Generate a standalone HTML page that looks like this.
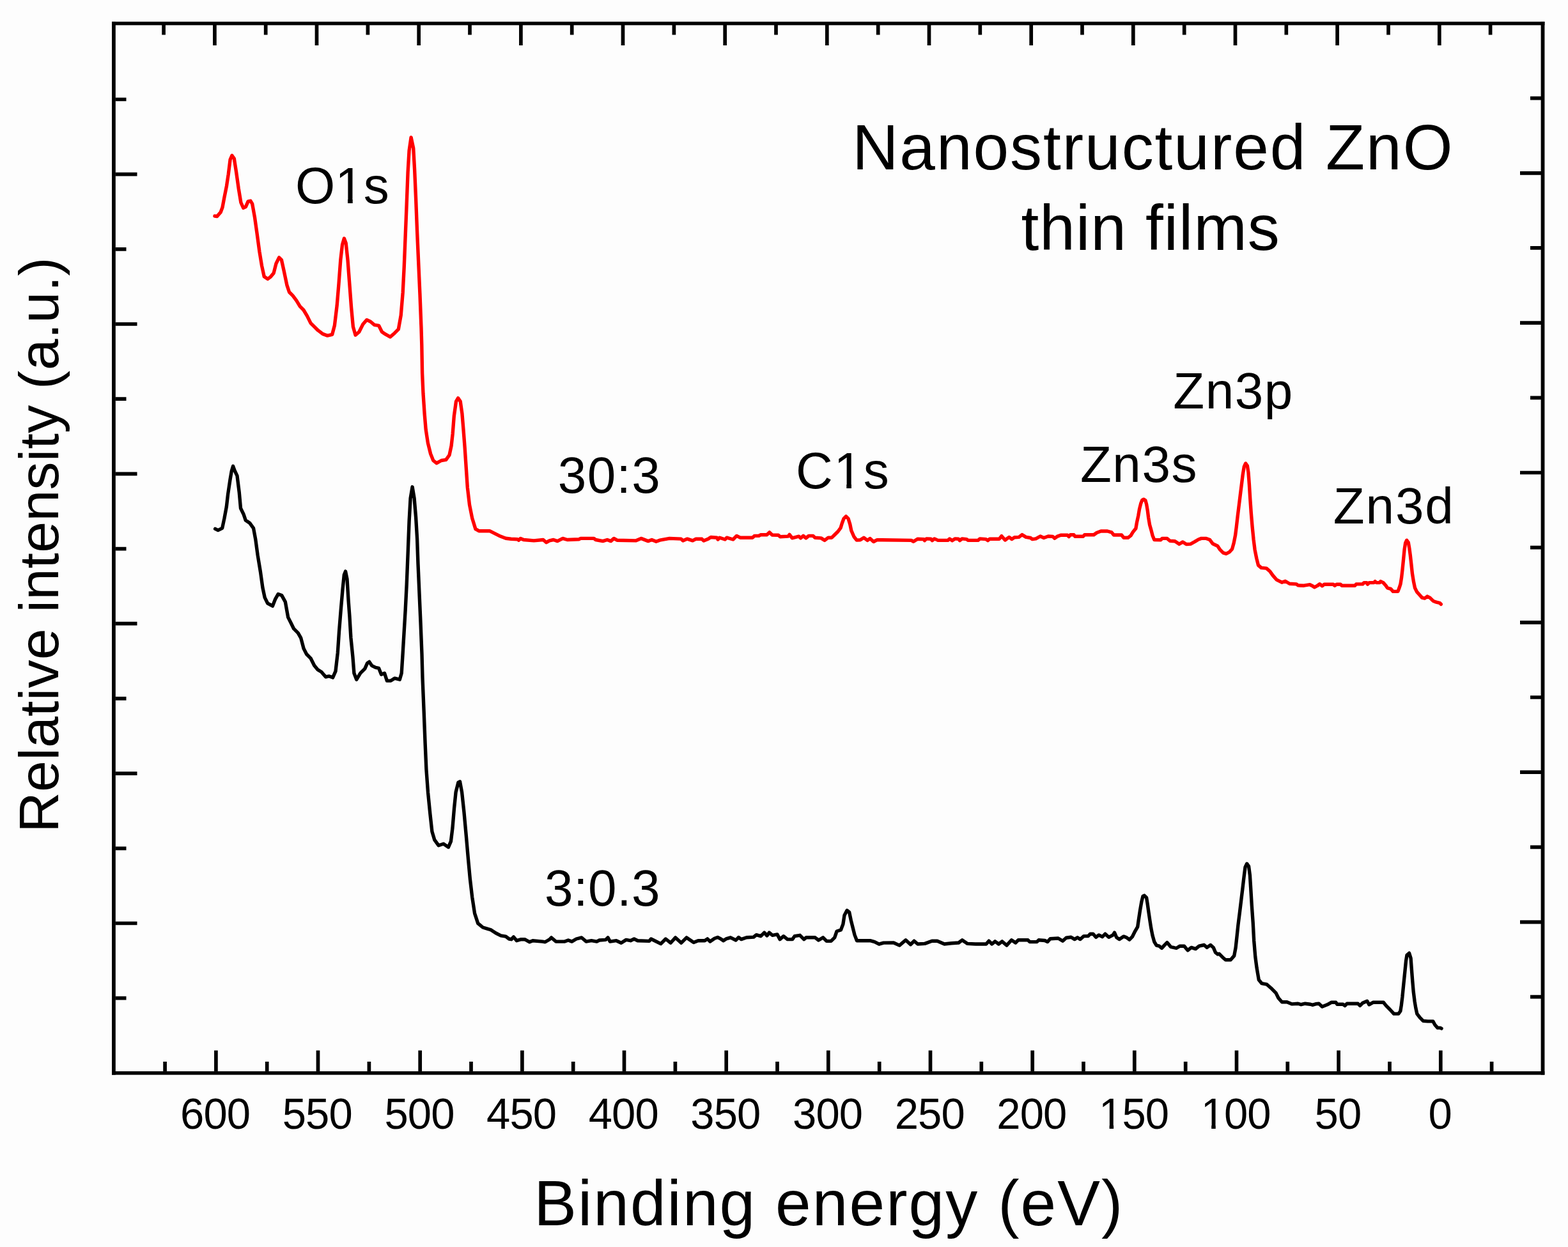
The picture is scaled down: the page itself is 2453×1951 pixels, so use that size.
<!DOCTYPE html>
<html><head><meta charset="utf-8"><title>XPS spectra of nanostructured ZnO thin films</title>
<style>html,body{margin:0;padding:0;background:#fdfdfd;}svg{display:block;}</style>
</head><body><svg width="2453" height="1951" viewBox="0 0 2453 1951"><rect width="2453" height="1951" fill="#fdfdfd"/><rect x="175" y="33.9" width="2241.4" height="5.5" fill="#000"/><rect x="175" y="1676.1" width="2241.4" height="5.5" fill="#000"/><rect x="175" y="33.9" width="5.8" height="1647.7" fill="#000"/><rect x="2410.6" y="33.9" width="5.8" height="1647.7" fill="#000"/><path d="M258.1 1676.5V1661M256.1 39V54.5M337.9 1676.5V1643.5M335.9 39V71M417.7 1676.5V1661M415.7 39V54.5M497.5 1676.5V1643.5M495.5 39V71M577.4 1676.5V1661M575.4 39V54.5M657.2 1676.5V1643.5M655.2 39V71M737.0 1676.5V1661M735.0 39V54.5M816.9 1676.5V1643.5M814.9 39V71M896.7 1676.5V1661M894.7 39V54.5M976.5 1676.5V1643.5M974.5 39V71M1056.4 1676.5V1661M1054.4 39V54.5M1136.2 1676.5V1643.5M1134.2 39V71M1216.0 1676.5V1661M1214.0 39V54.5M1295.8 1676.5V1643.5M1293.8 39V71M1375.7 1676.5V1661M1373.7 39V54.5M1455.5 1676.5V1643.5M1453.5 39V71M1535.3 1676.5V1661M1533.3 39V54.5M1615.2 1676.5V1643.5M1613.2 39V71M1695.0 1676.5V1661M1693.0 39V54.5M1774.8 1676.5V1643.5M1772.8 39V71M1854.7 1676.5V1661M1852.7 39V54.5M1934.5 1676.5V1643.5M1932.5 39V71M2014.3 1676.5V1661M2012.3 39V54.5M2094.1 1676.5V1643.5M2092.1 39V71M2174.0 1676.5V1661M2172.0 39V54.5M2253.8 1676.5V1643.5M2251.8 39V71M2333.6 1676.5V1661M2331.6 39V54.5M180.5 155.5H197.5M2411 153.6H2394M180.5 272.7H214.5M2411 270.8H2378M180.5 389.8H197.5M2411 387.9H2394M180.5 507.0H214.5M2411 505.1H2378M180.5 624.2H197.5M2411 622.3H2394M180.5 741.4H214.5M2411 739.5H2378M180.5 858.6H197.5M2411 856.7H2394M180.5 975.7H214.5M2411 973.8H2378M180.5 1092.9H197.5M2411 1091.0H2394M180.5 1210.1H214.5M2411 1208.2H2378M180.5 1327.3H197.5M2411 1325.4H2394M180.5 1444.5H214.5M2411 1442.6H2378M180.5 1561.6H197.5M2411 1559.7H2394" stroke="#000" stroke-width="5.7" fill="none"/><polyline points="336.6,827.4 341.1,829.6 347.7,826.3 351.0,810.8 354.3,793.1 356.6,773.1 359.9,751.0 362.3,737.0 364.6,729.3 367.0,736.0 371.0,744.3 374.3,770.9 376.5,795.3 380.9,804.2 384.3,814.1 390.9,818.6 396.5,826.3 399.8,844.0 403.1,868.4 407.5,895.0 410.9,919.4 414.2,934.9 418.6,943.8 426.4,948.2 430.8,937.1 435.2,929.4 440.8,931.6 446.3,941.6 450.7,965.9 455.2,974.8 459.6,983.7 466.3,990.3 470.7,998.1 475.1,1014.7 479.6,1023.5 486.2,1030.2 491.7,1041.3 497.3,1047.9 502.8,1051.2 509.5,1059.0 515.0,1057.9 520.6,1060.1 525.0,1050.1 528.3,1021.3 530.5,988.1 533.2,954.8 536.1,921.6 538.3,899.4 540.5,893.9 543.0,906.0 545.0,938.3 546.9,964.0 548.9,997.7 551.9,1027.5 553.9,1053.2 557.8,1063.2 563.8,1053.2 570.7,1046.3 574.7,1037.4 577.7,1035.4 581.6,1041.3 587.6,1044.3 592.5,1045.3 596.5,1055.2 601.5,1053.2 605.4,1065.1 611.4,1065.1 617.3,1061.2 625.3,1063.2 628.2,1053.2 630.2,1021.5 632.2,987.8 634.2,954.1 636.2,914.5 638.1,866.9 640.1,815.3 642.1,779.7 645.1,761.8 648.1,779.7 650.6,809.4 652.6,843.1 654.0,882.7 656.0,928.3 658.0,973.9 660.0,1023.5 661.0,1060.0 663.1,1111.3 665.1,1162.6 666.9,1203.6 669.5,1239.5 672.8,1272.8 675.9,1301.0 679.7,1313.8 686.2,1322.8 693.8,1320.3 701.5,1325.4 705.4,1316.4 707.9,1295.9 710.5,1265.1 713.1,1239.5 716.9,1224.1 719.5,1222.8 722.6,1239.5 725.9,1270.3 729.2,1306.2 732.3,1342.1 735.4,1375.4 738.7,1403.6 742.6,1429.2 747.7,1444.6 755.4,1451.0 768.2,1454.9 775.9,1460.0 783.6,1463.8 791.3,1465.1 796.4,1469.0 800.0,1469.7 803.5,1465.9 808.3,1471.7 815.3,1469.7 820.9,1469.7 828.5,1473.8 833.4,1471.7 848.7,1473.1 852.9,1473.8 859.8,1469.7 862.6,1466.9 869.6,1473.1 883.5,1473.1 889.0,1471.0 894.6,1473.1 901.6,1469.0 909.9,1466.9 916.9,1473.1 925.2,1471.7 933.6,1473.1 937.7,1471.0 947.5,1470.4 951.0,1466.9 954.4,1473.1 964.2,1471.7 971.8,1475.2 979.5,1470.4 986.4,1471.7 992.0,1469.0 997.6,1471.7 1015.7,1472.4 1018.5,1469.0 1022.6,1471.0 1033.8,1476.6 1041.4,1469.0 1049.1,1475.2 1056.7,1466.9 1065.8,1475.2 1074.1,1466.9 1085.2,1474.5 1092.2,1471.7 1102.5,1471.7 1106.7,1468.9 1110.9,1473.0 1117.8,1468.2 1122.7,1466.5 1127.6,1468.9 1131.7,1471.7 1135.9,1468.9 1142.9,1466.8 1151.2,1471.0 1155.4,1466.5 1159.6,1469.6 1167.9,1466.8 1179.0,1466.1 1183.2,1462.6 1190.2,1464.7 1195.7,1459.1 1199.9,1464.0 1203.4,1459.1 1208.3,1463.3 1215.9,1461.9 1220.1,1469.6 1225.7,1464.7 1231.9,1469.6 1239.6,1469.6 1243.1,1464.7 1251.4,1463.3 1257.7,1469.6 1261.1,1466.8 1275.1,1466.8 1280.6,1471.0 1287.6,1466.8 1293.1,1472.4 1300.1,1472.4 1305.7,1466.8 1309.1,1457.0 1315.4,1455.0 1318.9,1445.9 1321.0,1432.0 1325.1,1424.4 1328.6,1427.1 1331.4,1440.4 1334.2,1451.5 1337.0,1462.6 1340.5,1471.7 1361.3,1471.7 1368.3,1473.7 1375.2,1477.2 1382.2,1475.1 1398.1,1475.0 1407.1,1479.1 1416.9,1470.8 1424.5,1477.7 1430.1,1472.2 1435.7,1477.0 1446.8,1476.4 1457.9,1472.2 1466.3,1472.2 1477.4,1477.0 1488.5,1475.7 1499.7,1475.0 1505.2,1470.8 1513.6,1476.4 1526.1,1477.0 1542.8,1477.0 1547.0,1472.2 1551.8,1477.0 1556.7,1472.9 1562.3,1477.0 1567.8,1472.9 1574.8,1479.1 1582.4,1470.8 1588.7,1475.0 1592.9,1470.8 1608.2,1470.8 1611.0,1473.6 1622.1,1473.6 1624.9,1470.8 1634.6,1471.5 1638.8,1473.6 1643.0,1468.7 1655.5,1468.0 1662.5,1472.2 1668.0,1467.3 1675.6,1466.3 1681.1,1469.6 1685.6,1466.8 1690.0,1469.6 1695.6,1464.6 1702.3,1464.6 1705.6,1461.2 1710.1,1461.2 1714.5,1466.3 1719.0,1462.9 1724.5,1465.7 1729.0,1461.2 1734.6,1466.3 1741.2,1462.9 1743.5,1459.0 1746.8,1466.8 1751.3,1469.6 1757.9,1465.1 1762.4,1466.8 1766.9,1470.2 1771.3,1465.7 1775.8,1456.8 1779.7,1450.1 1781.3,1439.0 1783.5,1424.5 1785.8,1411.2 1788.0,1402.2 1790.2,1401.1 1793.6,1404.5 1795.2,1414.5 1796.9,1426.7 1798.9,1440.1 1800.8,1452.3 1803.0,1463.5 1805.8,1473.5 1809.2,1479.1 1813.6,1480.2 1817.5,1483.5 1821.4,1479.1 1825.8,1474.6 1831.4,1481.3 1840.3,1483.5 1845.9,1480.2 1852.6,1480.2 1858.1,1486.9 1863.7,1482.4 1870.4,1484.6 1875.9,1480.2 1883.7,1478.5 1888.2,1482.4 1893.8,1478.5 1898.2,1482.4 1901.5,1490.2 1904.9,1493.0 1907.1,1492.2 1912.6,1497.7 1917.3,1501.7 1925.2,1501.7 1930.7,1495.4 1933.1,1482.8 1935.0,1465.4 1937.0,1446.5 1939.4,1427.6 1941.7,1408.7 1943.8,1391.4 1946.0,1372.5 1948.0,1356.8 1950.7,1351.3 1953.5,1355.2 1955.4,1369.4 1956.7,1389.8 1958.3,1416.6 1960.2,1443.4 1961.7,1471.7 1963.8,1496.9 1966.1,1514.3 1969.3,1533.1 1974.0,1538.7 1981.9,1540.2 1988.2,1545.7 1996.1,1553.6 2000.0,1561.5 2005.5,1567.8 2013.4,1567.8 2021.3,1570.9 2030.7,1570.2 2035.4,1571.7 2041.7,1570.2 2050.0,1571.3 2053.1,1572.3 2058.2,1570.8 2063.3,1570.3 2068.4,1574.9 2076.5,1571.8 2082.7,1568.3 2089.8,1568.3 2091.8,1571.3 2101.0,1571.3 2104.1,1573.4 2107.1,1570.3 2124.5,1570.3 2127.6,1573.4 2131.6,1569.3 2138.8,1566.2 2141.8,1571.8 2148.0,1568.3 2164.3,1568.3 2168.4,1573.4 2174.5,1579.5 2180.6,1586.1 2187.8,1586.1 2190.8,1582.0 2192.3,1572.9 2193.9,1559.6 2195.7,1541.2 2197.8,1520.8 2199.5,1503.5 2201.0,1494.3 2204.6,1491.2 2207.1,1499.4 2208.2,1514.7 2209.7,1534.1 2211.2,1551.4 2213.1,1566.7 2214.8,1576.9 2216.8,1586.1 2221.4,1592.2 2226.5,1597.3 2233.7,1597.9 2241.8,1597.9 2244.9,1603.5 2249.0,1608.1 2253.1,1608.1 2255.1,1609.1" fill="none" stroke="#000" stroke-width="5.4" stroke-linejoin="round" stroke-linecap="round"/><polyline points="335.9,338.0 339.6,338.5 345.2,332.0 348.0,324.5 350.8,309.6 354.5,290.9 357.3,272.3 360.1,249.9 362.9,243.3 366.3,248.0 369.5,268.5 373.2,294.7 376.9,317.0 380.7,325.4 384.4,323.6 388.1,315.2 391.9,314.3 394.7,318.9 398.4,339.4 402.1,365.6 405.9,393.6 409.6,416.0 413.3,432.8 418.9,436.5 423.6,432.8 428.2,427.2 432.0,412.2 436.6,402.9 440.4,406.6 444.1,423.4 448.8,445.8 452.5,457.0 458.1,462.6 463.7,470.1 469.3,479.4 474.9,485.0 480.5,494.4 486.1,505.6 491.7,511.2 497.3,516.7 504.8,522.4 512.2,525.1 519.7,523.3 523.4,509.3 527.2,477.6 530.0,444.0 532.8,406.6 535.6,382.4 538.4,373.0 541.2,380.5 544.0,406.6 546.8,444.0 549.6,481.3 552.4,511.2 556.1,524.2 561.8,519.2 567.8,507.3 573.7,500.4 579.7,503.3 585.6,508.3 592.5,509.3 597.5,519.2 603.4,523.2 610.4,527.1 617.3,521.2 623.3,515.2 627.2,493.4 630.2,457.7 632.2,418.1 634.2,368.5 636.2,319.0 638.1,269.4 640.1,235.7 643.1,214.9 646.7,231.7 648.6,265.4 650.6,311.0 652.6,362.6 654.6,408.2 657.0,461.7 659.0,513.2 659.8,540.0 660.6,584.0 662.0,615.5 664.1,647.0 666.2,672.2 669.4,693.2 673.6,710.0 677.8,720.5 683.0,724.7 690.4,720.5 697.7,719.4 703.0,712.0 706.1,697.4 708.2,678.5 710.3,651.2 713.5,628.1 716.6,622.8 720.2,628.1 722.9,647.0 725.0,672.2 727.1,699.5 729.2,731.0 731.3,762.5 734.5,789.8 738.7,810.8 743.9,827.6 749.2,830.7 757.6,830.7 766.0,830.7 774.4,834.9 782.8,839.1 791.2,842.3 799.6,843.3 809.5,843.8 811.6,845.2 814.3,842.4 819.2,844.5 835.2,845.9 849.8,844.5 854.7,848.7 859.6,845.9 865.8,844.5 872.1,846.6 880.4,842.4 887.4,844.5 905.5,843.8 908.3,842.4 929.1,842.4 931.9,844.5 943.1,846.6 950.0,844.5 955.6,846.6 960.4,842.4 965.3,845.2 994.5,845.9 1002.9,842.4 1014.0,846.6 1019.6,844.5 1026.5,847.3 1032.1,845.2 1047.4,842.4 1065.5,843.1 1068.3,845.9 1075.2,843.1 1083.6,845.9 1088.3,843.3 1098.1,843.3 1100.9,846.1 1107.8,843.3 1112.0,840.5 1121.7,841.2 1123.1,844.0 1125.9,841.2 1134.3,844.0 1137.0,841.2 1146.8,844.0 1152.4,838.4 1157.9,841.2 1177.4,841.2 1180.2,838.4 1187.1,838.4 1189.9,836.8 1199.7,836.8 1203.8,832.9 1208.0,837.0 1217.7,837.3 1220.5,839.8 1233.0,839.1 1235.1,836.4 1239.3,841.9 1249.7,839.1 1252.5,841.9 1256.7,838.4 1260.9,841.9 1265.1,838.4 1272.0,838.4 1274.8,841.2 1284.5,841.9 1290.1,845.4 1295.7,841.2 1301.2,841.2 1305.4,837.0 1311.0,831.5 1315.1,825.9 1317.2,819.0 1320.0,811.3 1323.5,807.8 1327.0,811.3 1329.8,820.4 1331.8,830.1 1336.0,839.8 1340.2,845.1 1345.8,844.7 1351.3,841.2 1356.9,845.4 1361.1,842.6 1366.6,847.5 1372.2,844.7 1380.0,844.7 1425.7,845.4 1429.1,847.3 1435.4,843.2 1445.1,843.6 1446.5,845.7 1449.3,842.9 1456.3,843.2 1458.4,845.7 1461.8,842.9 1467.4,845.4 1482.7,845.4 1485.5,842.9 1489.7,845.7 1493.8,842.9 1499.4,843.2 1501.5,845.7 1505.0,842.9 1511.9,843.6 1514.7,845.4 1530.0,845.4 1532.8,842.9 1542.5,843.6 1545.3,845.7 1548.1,843.2 1563.4,843.2 1566.9,838.7 1572.4,845.0 1578.7,840.4 1582.9,843.6 1587.1,840.8 1594.0,840.4 1598.9,836.6 1605.1,840.4 1612.1,841.5 1614.9,843.6 1620.5,842.9 1627.4,839.0 1633.0,841.5 1639.9,839.0 1646.9,839.4 1649.7,842.2 1653.8,839.4 1659.4,837.3 1670.0,837.3 1672.2,839.6 1674.5,836.8 1680.0,836.8 1681.7,839.3 1694.5,839.3 1696.7,836.8 1711.2,836.8 1715.7,833.5 1722.3,831.0 1732.4,831.0 1739.0,832.9 1742.4,837.0 1754.6,837.0 1758.0,841.3 1764.6,841.3 1769.1,837.9 1772.4,832.4 1776.9,826.8 1778.6,816.8 1780.8,806.8 1782.5,796.7 1784.7,787.8 1786.9,782.3 1789.1,781.2 1791.9,782.8 1793.6,788.9 1795.3,799.0 1796.7,810.1 1798.6,821.2 1800.8,829.0 1803.1,837.9 1805.8,844.6 1815.8,844.8 1818.1,842.4 1825.9,842.4 1830.3,846.3 1838.1,846.8 1844.8,851.3 1850.4,847.9 1855.9,851.5 1862.6,851.1 1869.3,847.4 1874.9,844.0 1879.3,842.4 1887.1,842.4 1892.7,844.6 1897.4,850.8 1904.8,854.2 1908.8,860.2 1913.5,864.9 1918.2,866.3 1923.5,863.6 1927.6,858.9 1930.2,849.5 1932.6,837.4 1934.3,824.0 1936.3,806.6 1938.3,790.5 1940.3,774.4 1942.3,758.3 1944.3,742.2 1946.3,730.1 1948.7,725.0 1951.4,728.8 1953.0,739.5 1954.4,758.3 1955.7,779.7 1957.3,802.5 1959.1,824.0 1961.1,844.1 1963.1,860.2 1965.8,873.6 1968.5,884.4 1973.2,888.4 1981.2,889.1 1986.6,893.7 1991.3,900.4 1997.3,907.2 2005.3,911.2 2010.7,909.2 2017.4,913.2 2028.1,913.9 2030.8,915.9 2040.0,916.2 2049.2,914.7 2053.3,916.7 2056.3,918.8 2060.4,916.7 2064.5,913.7 2068.6,916.7 2071.6,914.2 2085.9,914.2 2088.0,916.2 2091.0,914.2 2097.1,914.2 2099.2,916.2 2119.6,916.2 2121.6,913.9 2131.8,913.9 2133.9,911.6 2138.0,911.6 2139.5,914.2 2142.0,911.6 2149.2,911.6 2151.2,909.6 2153.3,911.6 2158.4,911.6 2159.9,909.6 2164.0,911.6 2167.6,915.7 2170.6,919.8 2175.7,921.3 2179.3,925.4 2186.9,925.4 2189.0,919.8 2191.0,913.7 2192.6,903.5 2194.1,890.2 2195.6,874.9 2197.1,859.6 2198.7,849.4 2200.7,845.3 2203.3,848.9 2204.8,857.6 2206.3,868.8 2207.9,883.1 2209.4,897.3 2211.4,909.6 2213.5,919.8 2216.5,925.9 2220.6,930.5 2224.7,935.1 2228.8,936.1 2232.9,933.1 2236.9,935.1 2242.0,940.2 2247.1,942.2 2252.2,943.3 2254.3,945.3" fill="none" stroke="#ff0000" stroke-width="5.4" stroke-linejoin="round" stroke-linecap="round"/><g transform="translate(0 1765.8) scale(1 1.022) translate(0 -1765.8)" font-family="'Liberation Sans', Arial, Helvetica, sans-serif" font-size="67" letter-spacing="-0.9" fill="#000"><text x="336.6" y="1765.8" text-anchor="middle">600</text><text x="496.3" y="1765.8" text-anchor="middle">550</text><text x="656.0" y="1765.8" text-anchor="middle">500</text><text x="815.6" y="1765.8" text-anchor="middle">450</text><text x="975.3" y="1765.8" text-anchor="middle">400</text><text x="1134.9" y="1765.8" text-anchor="middle">350</text><text x="1294.6" y="1765.8" text-anchor="middle">300</text><text x="1454.3" y="1765.8" text-anchor="middle">250</text><text x="1613.9" y="1765.8" text-anchor="middle">200</text><text x="1773.6" y="1765.8" text-anchor="middle">150</text><text x="1933.2" y="1765.8" text-anchor="middle">100</text><text x="2092.9" y="1765.8" text-anchor="middle">50</text><text x="2252.6" y="1765.8" text-anchor="middle">0</text></g><text x="835.2" y="1916.5" font-size="100" letter-spacing="2.07" font-family="'Liberation Sans', Arial, Helvetica, sans-serif" fill="#000">Binding energy (eV)</text><text x="462.0" y="318.0" font-size="80" letter-spacing="0.0" font-family="'Liberation Sans', Arial, Helvetica, sans-serif" fill="#000">O1s</text><text x="872.8" y="771.0" font-size="80" letter-spacing="1.4" font-family="'Liberation Sans', Arial, Helvetica, sans-serif" fill="#000">30:3</text><text x="1244.9" y="764.3" font-size="80" letter-spacing="1.8" font-family="'Liberation Sans', Arial, Helvetica, sans-serif" fill="#000">C1s</text><text x="1835.2" y="638.5" font-size="80" letter-spacing="1.6" font-family="'Liberation Sans', Arial, Helvetica, sans-serif" fill="#000">Zn3p</text><text x="1689.9" y="754.0" font-size="80" letter-spacing="1.6" font-family="'Liberation Sans', Arial, Helvetica, sans-serif" fill="#000">Zn3s</text><text x="2085.8" y="818.5" font-size="80" letter-spacing="1.9" font-family="'Liberation Sans', Arial, Helvetica, sans-serif" fill="#000">Zn3d</text><text x="852.0" y="1416.8" font-size="80" letter-spacing="0.65" font-family="'Liberation Sans', Arial, Helvetica, sans-serif" fill="#000">3:0.3</text><text x="1333.2" y="264.5" font-size="100" letter-spacing="1.96" font-family="'Liberation Sans', Arial, Helvetica, sans-serif" fill="#000">Nanostructured ZnO</text><text x="1597.4" y="391.0" font-size="100" letter-spacing="1.1" font-family="'Liberation Sans', Arial, Helvetica, sans-serif" fill="#000">thin films</text><text transform="translate(90.8 1302.8) rotate(-90)" x="0" y="0" font-size="88" letter-spacing="0.225" font-family="'Liberation Sans', Arial, Helvetica, sans-serif" fill="#000">Relative intensity (a.u.)</text><g fill="#fdfdfd"><rect x="1722.96" y="1759.99" width="12.64" height="6.61"/><rect x="1742.12" y="1759.99" width="12.42" height="6.61"/><rect x="1882.56" y="1759.99" width="12.64" height="6.61"/><rect x="1901.72" y="1759.99" width="12.42" height="6.61"/><rect x="529.11" y="311.22" width="14.92" height="7.58"/><rect x="551.71" y="311.22" width="14.60" height="7.58"/><rect x="1309.36" y="757.52" width="14.92" height="7.58"/><rect x="1331.95" y="757.52" width="14.60" height="7.58"/></g></svg></body></html>
